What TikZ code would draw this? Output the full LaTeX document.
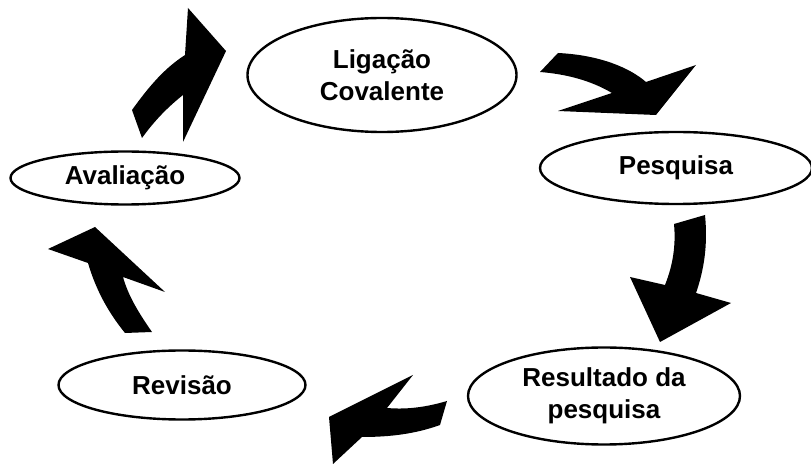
\documentclass[tikz,border=0pt]{standalone}
\usepackage{fontspec}
\setmainfont{Liberation Sans}
\usetikzlibrary{shapes.geometric}
\definecolor{cyclestroke}{RGB}{0, 0, 0}
\definecolor{cyclefill}{RGB}{0, 0, 0}

\begin{document}
\begin{tikzpicture}[x=0.5pt, y=-0.5pt,
  stage/.style={draw=cyclestroke, ellipse, line width=1.2pt, inner sep=0pt, align=center,
    font=\fontsize{13}{16}\selectfont\bfseries},
  blockarrow/.style={fill=cyclefill}]
\useasboundingbox (0,0) rectangle (811,465);
\node (lig) at (382,75) [stage, minimum width=134.5pt, minimum height=57pt] {Ligação\\Covalente};
\node (pesq) at (676,168) [stage, minimum width=136pt, minimum height=36pt] {Pesquisa};
\node (res) at (604,396) [stage, minimum width=136pt, minimum height=48.5pt] {Resultado da\\pesquisa};
\node (rev) at (182,385) [stage, minimum width=123.5pt, minimum height=34.5pt] {Revisão};
\node (aval) at (125,178) [stage, minimum width=114.5pt, minimum height=26.5pt] {Avaliação};
\fill[blockarrow] (558,53) .. controls (600,55) and (630,68) .. (646,82) -- (696,65) -- (656,115) -- (558,111) -- (612,93) .. controls (590,80) and (565,74) .. (540,72) -- cycle;
\fill[blockarrow] (674,224) -- (705,215) .. controls (708,245) and (704,270) .. (696,293) -- (731,303) -- (660,342) -- (630,277) -- (665,285) .. controls (673,265) and (676,245) .. (674,224) -- cycle;
\fill[blockarrow] (447,401) -- (440,425) .. controls (415,434) and (390,437) .. (362,437) -- (333,464) -- (329,417) -- (413,375) -- (387,408) .. controls (410,410) and (430,406) .. (447,401) -- cycle;
\fill[blockarrow] (125,333) -- (152,332) .. controls (138,312) and (128,295) .. (123,277) -- (165,292) -- (95,227) -- (48,249) -- (88,263) .. controls (96,290) and (108,312) .. (125,333) -- cycle;
\fill[blockarrow] (132,110) .. controls (150,85) and (165,68) .. (185,55) -- (188,8) -- (226,51) -- (183,142) -- (183,95) .. controls (168,107) and (155,120) .. (142,138) -- cycle;
\end{tikzpicture}
\end{document}
